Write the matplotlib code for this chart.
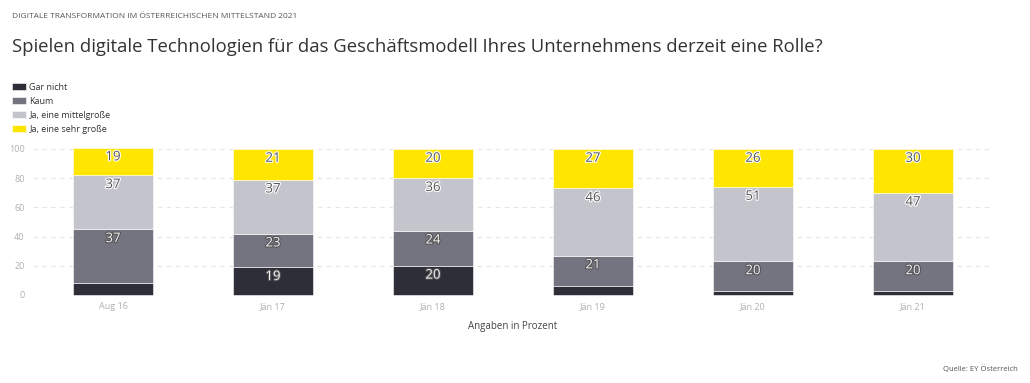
#!/usr/bin/env python3
"""Stacked bars: role of digital technologies for the business model (EY, 2021)."""

import matplotlib

matplotlib.use("Agg")
import matplotlib.pyplot as plt
import matplotlib.patheffects as pe
import numpy as np

# --- data (percent) ---
periods = ["Aug 16", "Jän 17", "Jän 18", "Jän 19", "Jän 20", "Jän 21"]
series_names = ["Gar nicht", "Kaum", "Ja, eine mittelgroße", "Ja, eine sehr große"]
gar_nicht = [8, 19, 20, 6, 3, 3]
kaum = [37, 23, 24, 21, 20, 20]
mittel = [37, 37, 36, 46, 51, 47]
sehr = [19, 21, 20, 27, 26, 30]
y_ticks = [0, 20, 40, 60, 80, 100]

colors = ["#2e2e38", "#747480", "#c4c4cd", "#ffe600"]
MIN_LABEL = 10

plt.rcParams["font.family"] = ["Open Sans", "DejaVu Sans"]

W, H = 1030, 383
fig = plt.figure(figsize=(W / 100, H / 100), dpi=100)
ax = fig.add_axes([33 / W, 1 - 295 / H, 960 / W, 146 / H])

x = np.arange(len(periods))
bottom = np.zeros(len(periods))
for name, vals, col in zip(series_names, [gar_nicht, kaum, mittel, sehr], colors):
    vals = np.array(vals, dtype=float)
    ax.bar(x, vals, 0.5, bottom=bottom, color=col, label=name,
           edgecolor="white", linewidth=0.4, clip_on=False, zorder=2)
    for xi, b, v in zip(x, bottom, vals):
        if v < MIN_LABEL:
            continue
        dark = col in ("#2e2e38", "#747480")
        ax.annotate(f"{int(v)}", (xi, b + v), xytext=(0, -2),
                    textcoords="offset points", ha="center", va="top",
                    fontsize=9.5, color="#f4f4f4" if dark else "#555555",
                    path_effects=[pe.withStroke(linewidth=1.6,
                                                foreground="#555555" if dark else "white")],
                    annotation_clip=False, zorder=3)
    bottom += vals

ax.set_xlim(-0.5, len(periods) - 0.5)
ax.set_ylim(0, 100)
ax.set_yticks(y_ticks)
ax.set_xticks(x)
ax.set_xticklabels(periods)
ax.tick_params(axis="both", length=0, labelsize=6.5, labelcolor="#b0b0b0")
ax.tick_params(axis="y", pad=6)
ax.tick_params(axis="x", pad=5)
ax.grid(axis="y", color="#e6e6e6", linestyle=(0, (4, 4)), linewidth=0.8)
ax.set_axisbelow(True)
for s in ax.spines.values():
    s.set_visible(False)

# texts around the chart
fig.text(12 / W, 1 - 17 / H, "DIGITALE TRANSFORMATION IM ÖSTERREICHISCHEN MITTELSTAND 2021",
         fontsize=6, color="#555555", va="center")
fig.text(12 / W, 1 - 47 / H,
         "Spielen digitale Technologien für das Geschäftsmodell Ihres Unternehmens derzeit eine Rolle?",
         fontsize=13.3, color="#333333", va="center")

handles, labels = ax.get_legend_handles_labels()
fig.legend(handles, labels, loc="upper left", bbox_to_anchor=(8 / W, 1 - 79 / H),
           frameon=False, fontsize=6.5, labelcolor="#333333", handlelength=1.6,
           handleheight=0.9, handletextpad=0.35, labelspacing=0.55,
           borderaxespad=0)

fig.text(513 / W, 1 - 326 / H, "Angaben in Prozent", fontsize=7, color="#444444",
         ha="center", va="center")
fig.text(1018 / W, 1 - 369 / H, "Quelle: EY Österreich", fontsize=5.5, color="#555555",
         ha="right", va="center")

fig.savefig("out.png", dpi=100)
